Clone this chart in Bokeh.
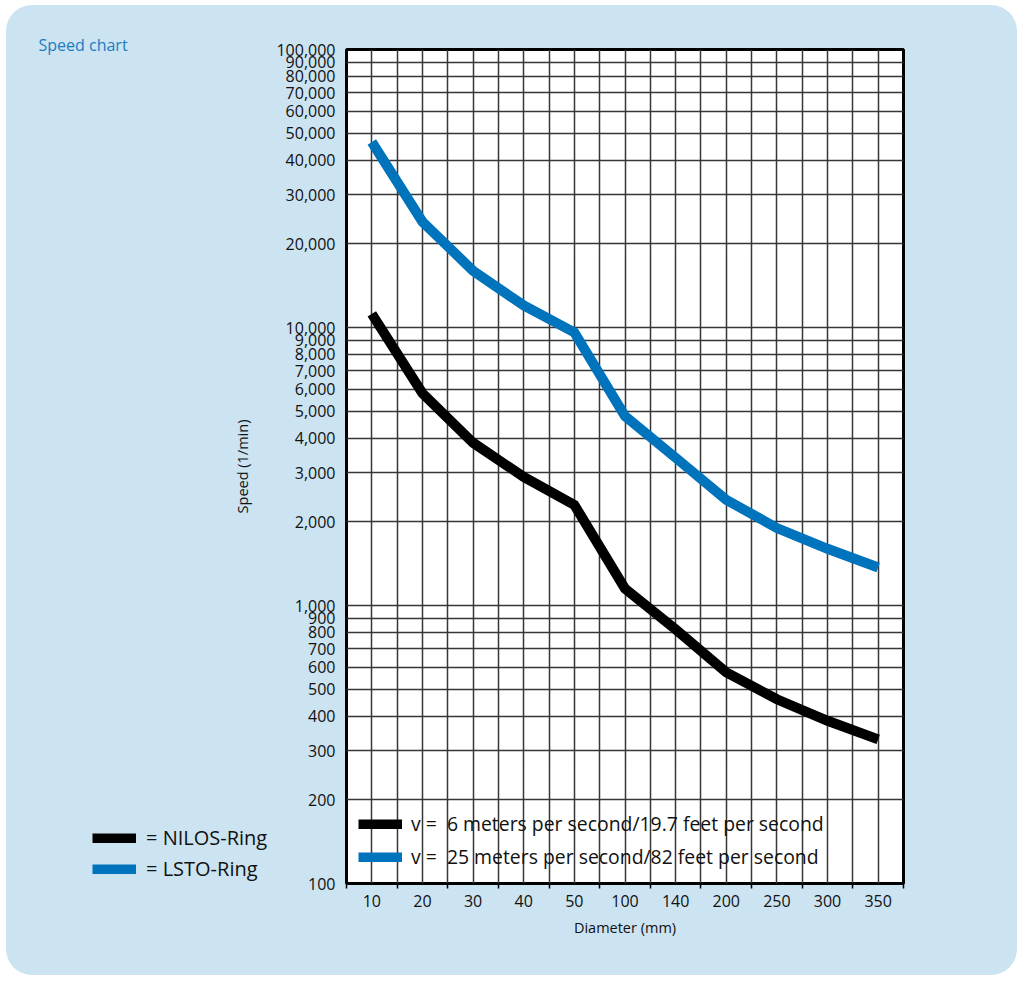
from bokeh.plotting import figure
from bokeh.layouts import row
from bokeh.models import (FixedTicker, NumeralTickFormatter, Legend, LegendItem, Range1d)
from bokeh.embed import file_html
from bokeh.resources import INLINE

# ---- data ----
diameters = ["10", "20", "30", "40", "50", "100", "140", "200", "250", "300", "350"]
nilos_speed = [11200, 5800, 3850, 2900, 2300, 1150, 820, 575, 460, 385, 330]
lsto_speed = [46500, 24000, 16000, 12000, 9600, 4800, 3400, 2400, 1900, 1600, 1370]
y_ticks = [100, 200, 300, 400, 500, 600, 700, 800, 900,
           1000, 2000, 3000, 4000, 5000, 6000, 7000, 8000, 9000,
           10000, 20000, 30000, 40000, 50000, 60000, 70000, 80000, 90000, 100000]
label_nilos = "v =  6 meters per second/19.7 feet per second"
label_lsto = "v =  25 meters per second/82 feet per second"
series_names = ["= NILOS-Ring", "= LSTO-Ring"]
chart_title = "Speed chart"

PANEL = "#cce3f1"
BLUE = "#0073bd"
FONT = "Open Sans"
GRID = "#363636"
TXT = "#111111"

x_pos = list(range(len(diameters)))

# ---------------- main chart ----------------
p = figure(width=801, height=970, y_axis_type="log",
           x_range=Range1d(-0.5, len(diameters) - 0.5),
           y_range=Range1d(100, 100000),
           output_backend="svg", toolbar_location=None,
           min_border_left=130, min_border_right=114,
           min_border_top=44, min_border_bottom=92)
p.styles = {"margin-left": "-60px"}
p.border_fill_alpha = 0
p.background_fill_color = "white"
p.outline_line_color = "black"
p.outline_line_width = 3
p.outline_line_alpha = 1

p.xaxis.ticker = FixedTicker(ticks=x_pos, minor_ticks=[i - 0.5 for i in range(len(diameters) + 1)])
p.xaxis.major_label_overrides = {i: d for i, d in enumerate(diameters)}
p.xaxis.axis_label = "Diameter (mm)"
p.xaxis.major_tick_out = 0
p.xaxis.major_tick_in = 0
p.xaxis.minor_tick_out = 5
p.xaxis.minor_tick_in = 0
p.xaxis.minor_tick_line_color = "black"
p.xaxis.minor_tick_line_width = 1.5
p.xaxis.major_label_standoff = 6
p.xaxis.axis_label_standoff = 8

p.yaxis.ticker = FixedTicker(ticks=y_ticks)
p.yaxis.formatter = NumeralTickFormatter(format="0,0")
p.yaxis.axis_label = "Speed (1/min)"
p.yaxis.major_tick_out = 0
p.yaxis.major_tick_in = 0
p.yaxis.minor_tick_line_color = None
p.yaxis.major_label_standoff = 11
p.yaxis.axis_label_standoff = 21

for ax in (p.xaxis, p.yaxis):
    ax.axis_line_color = None
    ax.major_label_text_font = FONT
    ax.major_label_text_font_size = "16px"
    ax.major_label_text_color = TXT
    ax.axis_label_text_font = FONT
    ax.axis_label_text_font_size = "14.5px"
    ax.axis_label_text_font_style = "normal"
    ax.axis_label_text_color = TXT

p.xgrid.ticker = p.xaxis.ticker
p.xgrid.grid_line_color = GRID
p.xgrid.grid_line_width = 1.5
p.xgrid.minor_grid_line_color = GRID
p.xgrid.minor_grid_line_width = 1.5
p.ygrid.grid_line_color = GRID
p.ygrid.grid_line_width = 1.5

r_blue = p.line(x_pos, lsto_speed, line_color=BLUE, line_width=10, line_join="miter")
r_black = p.line(x_pos, nilos_speed, line_color="black", line_width=10, line_join="miter")

common = dict(background_fill_alpha=0, border_line_color=None, padding=0, margin=0,
              glyph_width=44, glyph_height=10, label_text_font=FONT,
              label_text_color=TXT)

leg_in = Legend(items=[LegendItem(label=label_nilos, renderers=[r_black]),
                       LegendItem(label=label_lsto, renderers=[r_blue])],
                location=(12, 13), spacing=6, label_standoff=9,
                label_text_font_size="19.4px", **common)
p.add_layout(leg_in)

# ---------------- left side: title and series key ----------------
q = figure(width=270, height=970, x_range=Range1d(0, 1), y_range=Range1d(0, 1),
           output_backend="svg", toolbar_location=None,
           x_axis_location=None, y_axis_location=None,
           min_border_left=0, min_border_right=0,
           min_border_top=44, min_border_bottom=92)
q.grid.visible = False
q.outline_line_color = None
q.background_fill_alpha = 0
q.border_fill_alpha = 0

q.title.text = chart_title
q.title.align = "left"
q.title.offset = 32
q.title.standoff = -12
q.title.vertical_align = "bottom"
q.title.text_color = "#1a7cc2"
q.title.text_font = FONT
q.title.text_font_size = "16px"
q.title.text_font_style = "normal"

# key swatches (single-point lines: nothing drawn in the panel, only the key)
k_black = q.line(x=[0], y=[0], line_color="black", line_width=10)
k_blue = q.line(x=[0], y=[0], line_color=BLUE, line_width=10)

leg_key = Legend(items=[LegendItem(label=series_names[0], renderers=[k_black]),
                        LegendItem(label=series_names[1], renderers=[k_blue])],
                 location=(86, 1), spacing=4, label_standoff=10,
                 label_text_font_size="20px", **common)
q.add_layout(leg_key)

layout = row(q, p, spacing=0)
layout.styles = {"margin-left": "6px", "margin-top": "5px",
                 "border-radius": "26px", "overflow": "hidden",
                 "background-color": PANEL}

open("out.html", "w").write(file_html(layout, INLINE))
